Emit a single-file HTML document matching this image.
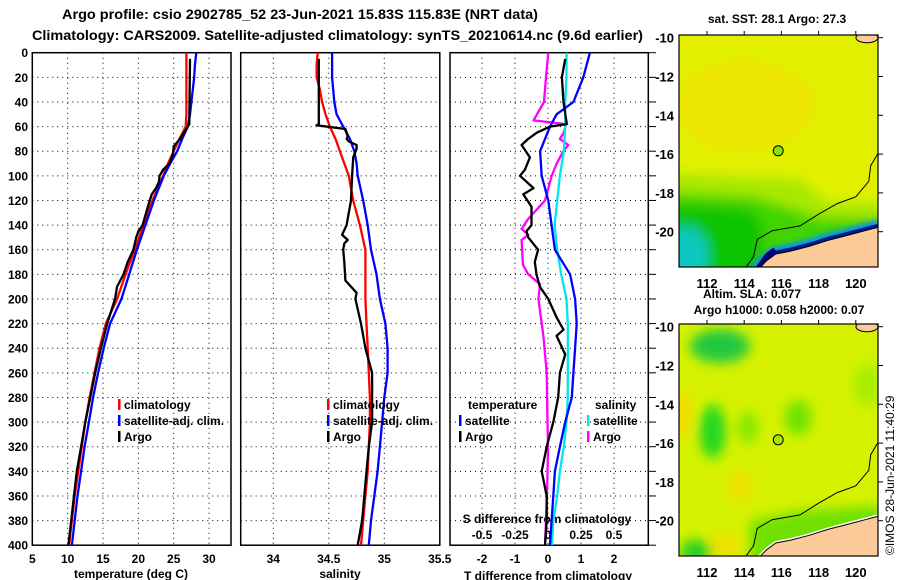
<!DOCTYPE html>
<html><head><meta charset="utf-8">
<style>
html,body{margin:0;padding:0;background:#fff;}
svg{display:block;font-family:"Liberation Sans",sans-serif;font-weight:bold;}
</style></head>
<body>
<svg id="chart" width="900" height="580" viewBox="0 0 900 580" xmlns="http://www.w3.org/2000/svg">
<defs>
<filter id="blur1" x="-50%" y="-50%" width="200%" height="200%"><feGaussianBlur stdDeviation="6"/></filter>
<filter id="blur2" x="-50%" y="-50%" width="200%" height="200%"><feGaussianBlur stdDeviation="3"/></filter>
<clipPath id="clipMap1"><rect x="679" y="35" width="199" height="232"/></clipPath>
<clipPath id="clipMap2"><rect x="679" y="324" width="199" height="232"/></clipPath>
</defs>
<text x="62" y="19" font-size="14" textLength="476" lengthAdjust="spacingAndGlyphs">Argo profile: csio 2902785_52 23-Jun-2021 15.83S 115.83E (NRT data)</text>
<text x="32" y="40" font-size="14" textLength="611" lengthAdjust="spacingAndGlyphs">Climatology: CARS2009. Satellite-adjusted climatology: synTS_20210614.nc (9.6d earlier)</text>
<g id="plots"></g>
<g id="maps"></g>
<text transform="translate(894,555) rotate(-90)" font-size="12" font-weight="normal">©IMOS 28-Jun-2021 11:40:29</text>
</svg>
<script>
// ---------- data ----------
const depthTicks = [0,20,40,60,80,100,120,140,160,180,200,220,240,260,280,300,320,340,360,380,400];
const tempTicks = [5,10,15,20,25,30];
const salTicks = [34,34.5,35,35.5];
const tdiffTicks = [-2,-1,0,1,2];
const sdiffTicks = [-0.5,-0.25,0,0.25,0.5];

const climDepth = [0,10,20,30,40,50,60,70,80,90,100,120,140,160,180,200,220,240,260,280,300,320,340,360,380,400];
const climT = [26.8,26.8,26.8,26.8,26.8,26.8,26.7,25.8,25.0,24.2,23.5,22.0,20.7,19.5,18.2,17.0,15.4,14.5,13.8,13.1,12.5,12.0,11.5,11.0,10.6,10.2];
const satT  = [28.2,28.0,27.9,27.7,27.5,27.3,27.0,26.2,25.5,24.5,23.6,22.2,21.0,19.8,18.7,17.6,16.0,15.1,14.3,13.6,13.0,12.4,11.9,11.4,11.0,10.6];
const argoTDepth = [5,58,70,76,82,90,95,100,105,110,115,120,130,140,145,150,160,170,180,190,200,220,240,260,280,300,320,340,360,380,400];
const argoT = [27.3,27.2,25.9,25.0,24.9,24.4,23.5,23.0,22.9,22.5,21.9,21.6,21.1,20.6,20.0,19.7,19.3,18.5,17.9,17.0,16.7,15.6,14.7,13.9,13.2,12.5,11.9,11.3,10.9,10.5,10.1];

const climS = [34.40,34.39,34.39,34.42,34.44,34.47,34.51,34.56,34.60,34.64,34.68,34.72,34.78,34.83,34.83,34.83,34.84,34.85,34.86,34.87,34.87,34.86,34.85,34.83,34.81,34.79];
const satS  = [34.53,34.53,34.53,34.54,34.55,34.57,34.63,34.69,34.73,34.75,34.76,34.81,34.85,34.88,34.93,34.96,35.01,35.03,35.03,35.00,34.98,34.96,34.94,34.91,34.88,34.86];
const argoSDepth = [5,58,59,62,68,70,72,75,78,85,100,120,140,148,152,155,160,170,185,195,200,220,240,260,280,300,320,340,360,380,400];
const argoS = [34.41,34.41,34.39,34.65,34.67,34.66,34.68,34.75,34.75,34.72,34.71,34.70,34.66,34.62,34.67,34.64,34.63,34.64,34.65,34.75,34.74,34.79,34.83,34.89,34.89,34.89,34.86,34.84,34.82,34.80,34.76];

const diffDepth = [0,20,40,50,60,80,100,120,140,160,180,200,220,240,260,280,300,320,340,360,380,400];
const satDT = [1.27,1.07,0.77,0.26,0.06,-0.24,-0.19,0.01,0.11,0.21,0.67,0.82,0.87,0.82,0.77,0.72,0.52,0.36,0.21,0.16,0.11,0.06];
const satDS = [0.14,0.14,0.13,0.13,0.13,0.12,0.09,0.07,0.05,0.07,0.10,0.14,0.15,0.15,0.15,0.15,0.14,0.12,0.09,0.07,0.04,0.03];
const argoDTDepth = [5,20,40,58,60,65,70,75,85,95,100,110,115,125,140,145,150,160,170,180,190,200,215,225,230,245,260,280,300,320,340,360,380,400];
const argoDT = [0.52,0.42,0.47,0.57,0.06,-0.34,-0.6,-0.8,-0.55,-0.7,-0.85,-0.44,-0.75,-0.5,-0.5,-0.65,-0.6,-0.3,-0.4,-0.35,-0.25,0.01,0.26,0.47,0.26,0.52,0.36,0.31,0.16,-0.04,-0.19,-0.04,-0.04,-0.09];
const argoDSDepth = [0,20,40,55,58,65,70,75,80,90,100,120,135,143,148,152,172,180,188,200,210,230,260,290,320,350,380,400];
const argoDS = [0.0025,-0.015,-0.03,-0.11,0.136,0.12,0.09,0.154,0.116,0.066,0.028,-0.023,-0.15,-0.2,-0.15,-0.2,-0.19,-0.15,-0.06,-0.073,-0.06,-0.035,-0.01,-0.005,0.0,-0.005,-0.015,-0.023];

const latTicks = [-10,-12,-14,-16,-18,-20];
const lonTicks = [112,114,116,118,120];
const argoLon = 115.83, argoLat = -15.83;

// ---------- helpers ----------
const NS = 'http://www.w3.org/2000/svg';
function mk(tag, attrs, parent){
  const e = document.createElementNS(NS, tag);
  for (const k in attrs) e.setAttribute(k, attrs[k]);
  parent.appendChild(e);
  return e;
}
const plots = document.getElementById('plots');
const TOP = 52.7, BOT = 545.2;
const yD = d => TOP + d * (BOT - TOP) / 400;
const P1 = {x0:32.3, x1:231, f:v => 32.3 + (v - 5) * 7.07};
const P2 = {x0:240.7, x1:439.8, f:v => 273.3 + (v - 34) * 111};
const P3 = {x0:450, x1:648.3, f:v => 548 + v * 33};
const fS3 = v => 548 + v * 132;

function grid(P, xticks, fx, name){
  const g = mk('g', {}, plots);
  
  
  depthTicks.forEach(d => {
    if (d === 0 || d === 400) return;
    mk('line', {x1:P.x0, x2:P.x1, y1:yD(d), y2:yD(d), stroke:'#000', 'stroke-width':1, 'stroke-dasharray':'1,4'}, g);
  });
  xticks.forEach(v => {
    const x = fx(v);
    if (x <= P.x0 + 1 || x >= P.x1 - 1) return;
    mk('line', {x1:x, x2:x, y1:TOP, y2:BOT, stroke:'#000', 'stroke-width':1, 'stroke-dasharray':'1,4'}, g);
  });
  const r = mk('rect', {x:P.x0, y:TOP, width:P.x1 - P.x0, height:BOT - TOP, fill:'none', stroke:'#000', 'stroke-width':1.5}, plots);
  
  
}
function xlabels(xticks, fx, y, name){
  xticks.forEach(v => {
    const t = mk('text', {x:fx(v), y:y, 'font-size':12, 'text-anchor':'middle'}, plots);
    t.textContent = String(v);
    
    
  });
}
function line(xs, ds, fx, color, name){
  const pts = xs.map((v, i) => fx(v).toFixed(1) + ',' + yD(ds[i]).toFixed(1)).join(' ');
  const p = mk('polyline', {points:pts, fill:'none', stroke:color, 'stroke-width':2.3, 'stroke-linejoin':'round'}, plots);
  
  
}
function legendItem(x, y, color, label, name){
  const m = mk('rect', {x:x, y:y - 10, width:2.5, height:11, fill:color}, plots);
  
  
  const t = mk('text', {x:x + 6, y:y, 'font-size':12}, plots);
  t.textContent = label;
  
  
}
function text(x, y, s, anchor, size, name){
  const t = mk('text', {x:x, y:y, 'font-size':size, 'text-anchor':anchor}, plots);
  t.textContent = s;
  
  
  return t;
}

// ---------- panel 1 ----------
grid(P1, tempTicks, P1.f, 'temperature-panel');
depthTicks.forEach(d => {
  const t = mk('text', {x:28, y:yD(d) + 4.5, 'font-size':12, 'text-anchor':'end'}, plots);
  t.textContent = String(d);
  
  
});
xlabels(tempTicks, P1.f, 563, 'temperature-axis');
text(131, 578, 'temperature (deg C)', 'middle', 12, 'temperature-axis-title');
line(climT, climDepth, P1.f, '#ff0000', 'temperature-climatology-line');
line(satT, climDepth, P1.f, '#0000ff', 'temperature-satellite-line');
line(argoT, argoTDepth, P1.f, '#000000', 'temperature-argo-line');
legendItem(118, 409, '#ff0000', 'climatology', 'legend-climatology');
legendItem(118, 425, '#0000ff', 'satellite-adj. clim.', 'legend-satellite');
legendItem(118, 441, '#000000', 'Argo', 'legend-argo');

// ---------- panel 2 ----------
grid(P2, salTicks, P2.f, 'salinity-panel');
xlabels(salTicks, P2.f, 563, 'salinity-axis');
text(340, 578, 'salinity', 'middle', 12, 'salinity-axis-title');
line(climS, climDepth, P2.f, '#ff0000', 'salinity-climatology-line');
line(satS, climDepth, P2.f, '#0000ff', 'salinity-satellite-line');
line(argoS, argoSDepth, P2.f, '#000000', 'salinity-argo-line');
legendItem(327, 409, '#ff0000', 'climatology', 'legend-climatology-2');
legendItem(327, 425, '#0000ff', 'satellite-adj. clim.', 'legend-satellite-2');
legendItem(327, 441, '#000000', 'Argo', 'legend-argo-2');

// ---------- panel 3 ----------
grid(P3, tdiffTicks, P3.f, 'difference-panel');
depthTicks.forEach(d => {
  mk('line', {x1:649, x2:656, y1:yD(d), y2:yD(d), stroke:'#000', 'stroke-width':1}, plots);
});
xlabels(tdiffTicks, P3.f, 563, 'tdiff-axis');
text(548, 580, 'T difference from climatology', 'middle', 12, 'tdiff-axis-title');
text(547, 523, 'S difference from climatology', 'middle', 12, 'sdiff-axis-title');
sdiffTicks.forEach(v => {
  const t = mk('text', {x:fS3(v), y:539, 'font-size':12, 'text-anchor':'middle'}, plots);
  t.textContent = String(v);
  
  
});
line(argoDS, argoDSDepth, fS3, '#ff00ff', 'sdiff-argo-line');
line(satDS, diffDepth, fS3, '#00e5ee', 'sdiff-satellite-line');
line(satDT, diffDepth, P3.f, '#0000ff', 'tdiff-satellite-line');
line(argoDT, argoDTDepth, P3.f, '#000000', 'tdiff-argo-line');
text(468, 409, 'temperature', 'start', 12, 'legend-temperature-heading');
text(595, 409, 'salinity', 'start', 12, 'legend-salinity-heading');
legendItem(459, 425, '#0000ff', 'satellite', 'legend-tdiff-satellite');
legendItem(459, 441, '#000000', 'Argo', 'legend-tdiff-argo');
legendItem(587, 425, '#00e5ee', 'satellite', 'legend-sdiff-satellite');
legendItem(587, 441, '#ff00ff', 'Argo', 'legend-sdiff-argo');

// ---------- maps ----------
const maps = document.getElementById('maps');
const MX0 = 679, MX1 = 878;
const lonX = lon => 707 + (lon - 112) * 18.6;
function latY(top){ return lat => top + 2.7 + (-10 - lat) * 19.4; }
function poly(pts, ly, attrs, parent){
  const s = pts.map(p => lonX(p[0]).toFixed(1) + ',' + ly(p[1]).toFixed(1)).join(' ');
  attrs.points = s;
  return mk('polygon', attrs, parent);
}
function pline(pts, ly, attrs, parent){
  attrs.points = pts.map(p => lonX(p[0]).toFixed(1) + ',' + ly(p[1]).toFixed(1)).join(' ');
  attrs.fill = 'none';
  return mk('polyline', attrs, parent);
}
const coast = [[114.5,-22.2],[115.2,-21.5],[115.7,-21.15],[116.5,-21.0],[117.5,-20.75],[118.5,-20.45],[119.5,-20.2],[120.5,-19.95],[121.3,-19.75]];
const isobath = [[113.8,-22.2],[114.5,-21.3],[114.7,-20.4],[115.5,-19.95],[117,-19.7],[118,-19.1],[119,-18.55],[120,-18.2],[120.7,-17.4],[120.8,-16.6],[121.3,-15.8]];

function drawMap(top, clipId, kind, name){
  const ly = latY(top);
  const g = mk('g', {'clip-path':'url(#' + clipId + ')'}, maps);
  
  
  if (kind === 'sst'){
    mk('rect', {x:MX0, y:top, width:199, height:232, fill:'#e2f000'}, g);
    const b = mk('g', {filter:'url(#blur1)'}, g);
    mk('ellipse', {cx:lonX(114), cy:ly(-13.5), rx:70, ry:45, fill:'#efe400', opacity:0.8}, b);
    poly([[110,-17],[117,-17.3],[118.5,-18.5],[121.5,-18.5],[121.5,-23],[110,-23]], ly, {fill:'#a8e800'}, b);
    poly([[110,-18],[114.5,-18.2],[116.5,-18.8],[118,-19.3],[121.5,-19.3],[121.5,-23],[110,-23]], ly, {fill:'#40d400'}, b);
    poly([[110,-18.6],[114,-18.8],[115,-19.5],[115,-23],[110,-23]], ly, {fill:'#10c400'}, b);
    mk('ellipse', {cx:lonX(110.9), cy:ly(-21.2), rx:22, ry:28, fill:'#10c8c0'}, b);
    const c = mk('g', {filter:'url(#blur2)'}, g);
    pline(coast, ly, {stroke:'#0090ff', 'stroke-width':14}, c);
    pline(coast, ly, {stroke:'#001890', 'stroke-width':7}, g);
    pline([[114.8,-22.2],[115.4,-21.4],[115.8,-21.1]], ly, {stroke:'#000080', 'stroke-width':14}, g);
  } else {
    mk('rect', {x:MX0, y:top, width:199, height:232, fill:'#d6f200'}, g);
    const b = mk('g', {filter:'url(#blur1)'}, g);
    mk('ellipse', {cx:lonX(112.7), cy:ly(-11), rx:30, ry:17, fill:'#20c840'}, b);
    mk('ellipse', {cx:lonX(112.3), cy:ly(-15.4), rx:13, ry:27, fill:'#20d820'}, b);
    mk('ellipse', {cx:lonX(114.2), cy:ly(-15.2), rx:10, ry:16, fill:'#80e800'}, b);
    mk('ellipse', {cx:lonX(116.9), cy:ly(-14.7), rx:14, ry:18, fill:'#70e400'}, b);
    mk('ellipse', {cx:lonX(120.6), cy:ly(-13), rx:14, ry:22, fill:'#a8ee00'}, b);
    mk('ellipse', {cx:lonX(110.6), cy:ly(-14.5), rx:10, ry:22, fill:'#f4d800'}, b);
    mk('ellipse', {cx:lonX(113.8), cy:ly(-18.2), rx:12, ry:16, fill:'#f0e000'}, b);
    mk('ellipse', {cx:lonX(113), cy:ly(-21.3), rx:14, ry:14, fill:'#f0e000'}, b);
    mk('ellipse', {cx:lonX(111.4), cy:ly(-21.6), rx:16, ry:12, fill:'#20d020'}, b);
    poly([[114.3,-20],[117,-19.5],[121.5,-19.2],[121.5,-23],[114.3,-23]], ly, {fill:'#70e000'}, b);
    pline(coast, ly, {stroke:'#ffffff', 'stroke-width':4}, g);
  }
  poly(coast.concat([[121.5,-23],[114.5,-23]]), ly, {fill:'#fcca98'}, g);
  pline(coast, ly, {stroke:'#000', 'stroke-width':1}, g);
  mk('ellipse', {cx:lonX(120.6), cy:ly(-10), rx:11, ry:5, fill:'#fcca98', stroke:'#000', 'stroke-width':1}, g);
  pline(isobath, ly, {stroke:'#000', 'stroke-width':1}, g);
  const dot = mk('circle', {cx:lonX(argoLon), cy:ly(argoLat), r:5, fill:kind === 'sst' ? '#8ee000' : '#a8e800', stroke:'#000', 'stroke-width':1}, maps);
  
  
  const fr = mk('rect', {x:MX0, y:top, width:199, height:232, fill:'none', stroke:'#000', 'stroke-width':1.2}, maps);
  
  
  latTicks.forEach(v => {
    mk('line', {x1:MX1, x2:MX1 + 5, y1:ly(v), y2:ly(v), stroke:'#000'}, maps);
    const t = mk('text', {x:674, y:ly(v) + 5, 'font-size':13, 'text-anchor':'end'}, maps);
    t.textContent = String(v);
    
    
  });
  lonTicks.forEach(v => {
    mk('line', {x1:lonX(v), x2:lonX(v), y1:top - 4, y2:top, stroke:'#000'}, maps);
    const t = mk('text', {x:lonX(v), y:top + 253, 'font-size':13, 'text-anchor':'middle'}, maps);
    t.textContent = String(v);
    
    
  });
}
drawMap(35, 'clipMap1', 'sst', 'sst-map');
drawMap(324, 'clipMap2', 'sla', 'sla-map');
const mt = (x, y, s, n) => { const t = mk('text', {x:x, y:y, 'font-size':12, 'text-anchor':'middle'}, maps); t.textContent = s;   };
mt(777, 23, 'sat. SST: 28.1 Argo: 27.3', 'sst-map-title');
mt(752, 298, 'Altim. SLA: 0.077', 'sla-map-title');
mt(779, 314, 'Argo h1000: 0.058 h2000: 0.07', 'sla-map-subtitle');
</script>
</body></html>
